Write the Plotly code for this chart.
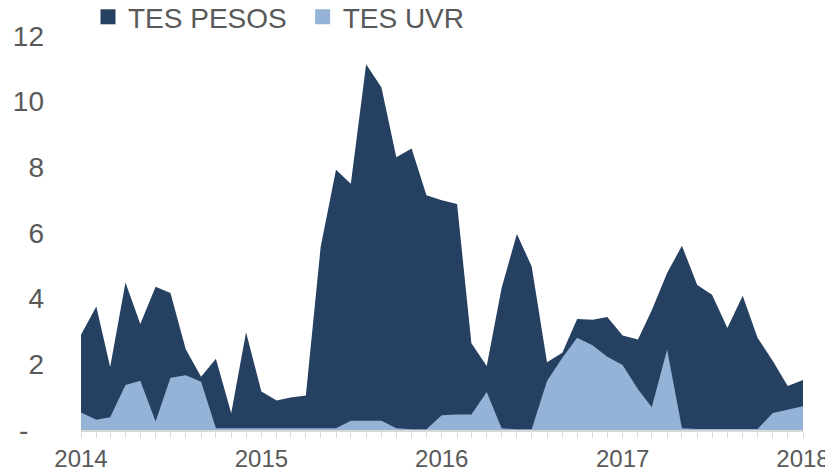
import plotly.graph_objects as go
import pandas as pd

dates = pd.date_range("2014-01-01", "2018-01-01", freq="MS")

tes_pesos = [2.90, 3.76, 1.92, 4.49, 3.23, 4.36, 4.17, 2.46, 1.62, 2.17, 0.51, 2.98,
             1.17, 0.90, 0.99, 1.05, 5.58, 7.93, 7.50, 11.14, 10.43, 8.31, 8.57, 7.15,
             7.00, 6.88, 2.64, 1.95, 4.32, 5.97, 4.98, 2.06, 2.35, 3.38, 3.36, 3.44,
             2.88, 2.76, 3.65, 4.78, 5.61, 4.42, 4.12, 3.11, 4.09, 2.81, 2.10, 1.34, 1.52]

tes_uvr = [0.53, 0.31, 0.39, 1.37, 1.50, 0.26, 1.59, 1.67, 1.47, 0.05, 0.05, 0.05,
           0.05, 0.05, 0.05, 0.05, 0.05, 0.05, 0.28, 0.28, 0.28, 0.05, 0.02, 0.02,
           0.45, 0.47, 0.47, 1.16, 0.05, 0.02, 0.02, 1.49, 2.20, 2.81, 2.58, 2.23,
           1.98, 1.24, 0.69, 2.45, 0.05, 0.03, 0.03, 0.03, 0.03, 0.03, 0.52, 0.62, 0.72]

y_tickvals = [0, 2, 4, 6, 8, 10, 12]
y_ticktext = ["-\u00a0\u00a0", "2", "4", "6", "8", "10", "12"]

series_names = ["TES PESOS", "TES UVR"]
colors = ["#264061", "#95B3D7"]
legend_ids = ["legend", "legend2"]

fig = go.Figure()
for name, vals, col in zip(series_names, [tes_pesos, tes_uvr], colors):
    fig.add_trace(go.Scatter(x=dates, y=vals, mode="lines", fill="tozeroy",
                             line=dict(width=0, color=col), fillcolor=col,
                             showlegend=False, hoverinfo="skip"))
for name, col, lg in zip(series_names, colors, legend_ids):
    fig.add_trace(go.Scatter(x=[None], y=[None], mode="markers", name=name,
                             legend=lg,
                             marker=dict(symbol="square", size=15, color=col)))

leg_common = dict(orientation="h", yanchor="middle", xanchor="left", y=1.048,
                  font=dict(size=28, color="#595959"), bgcolor="rgba(0,0,0,0)")

fig.update_layout(
    width=825, height=465,
    margin=dict(l=73, r=30, t=28, b=43, autoexpand=False),
    paper_bgcolor="white", plot_bgcolor="white",
    font=dict(family="Liberation Sans, Arial, sans-serif", color="#595959"),
    legend=dict(x=0.0097, **leg_common),
    legend2=dict(x=0.307, **leg_common),
    xaxis=dict(range=[dates[0], dates[-1]], type="date", dtick="M12", tickformat="%Y",
               tick0="2014-01-01",
               showgrid=False, zeroline=False, showline=True, linecolor="#D9D9D9",
               linewidth=1.5, ticks="outside", ticklen=6, tickcolor="#D9D9D9",
               tickfont=dict(size=24, color="#595959"),
               minor=dict(dtick="M1", ticks="outside", ticklen=6, tickcolor="#D9D9D9",
                          showgrid=False)),
    yaxis=dict(range=[0, 12], tickvals=y_tickvals, ticktext=y_ticktext,
               showgrid=False, zeroline=False, showline=False,
               ticklabelstandoff=36,
               tickfont=dict(size=28, color="#595959")),
)

fig.write_html("out.html")
